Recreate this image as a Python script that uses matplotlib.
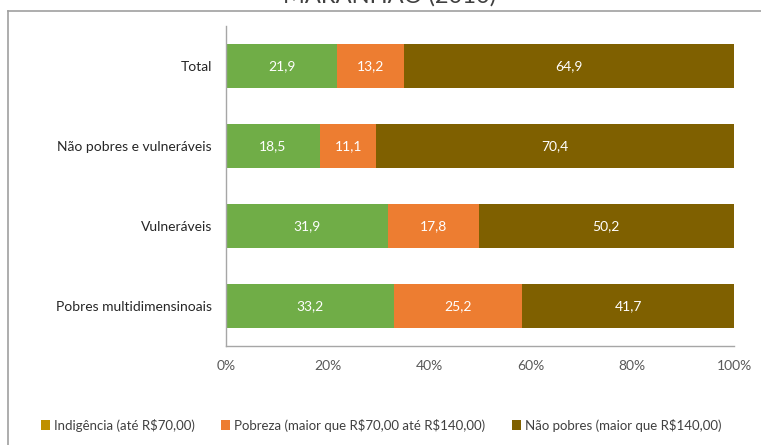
import numpy as np
import matplotlib
matplotlib.use("Agg")
import matplotlib.pyplot as plt
from matplotlib.patches import Patch
from matplotlib.lines import Line2D

plt.rcParams["font.family"] = ["Lato", "DejaVu Sans"]
plt.rcParams["text.parse_math"] = False

title = "MARANHÃO (2010)"
categories = ["Total", "Não pobres e vulneráveis", "Vulneráveis", "Pobres multidimensinoais"]
indigencia = [21.9, 18.5, 31.9, 33.2]
pobreza = [13.2, 11.1, 17.8, 25.2]
nao_pobres = [64.9, 70.4, 50.2, 41.7]
legend_labels = ["Indigência (até R$70,00)",
                 "Pobreza (maior que R$70,00 até R$140,00)",
                 "Não pobres (maior que R$140,00)"]
xticks = [0, 20, 40, 60, 80, 100]

bar_colors = ["#70AD47", "#ED7D31", "#7F6000"]
legend_colors = ["#BF9000", "#ED7D31", "#7F6000"]

fig = plt.figure(figsize=(7.61, 4.45), dpi=100)
ax = fig.add_axes([226 / 761, 1 - 346 / 445, (734 - 226) / 761, 320 / 445])

series = np.array([indigencia, pobreza, nao_pobres])
totals = series.sum(axis=0)
shares = series / totals * 100
y = np.arange(len(categories))
left = np.zeros(len(categories))
for vals, share, col in zip(series, shares, bar_colors):
    ax.barh(y, share, left=left, height=0.55, color=col, edgecolor="none")
    for yi, l, s, v in zip(y, left, share, vals):
        ax.text(l + s / 2, yi, f"{v:.1f}".replace(".", ","), ha="center", va="center",
                color="white", fontsize=10)
    left += share

ax.set_ylim(len(categories) - 0.5, -0.5)
ax.set_xlim(0, 100)
ax.set_yticks(y)
ax.set_yticklabels(categories, fontsize=10, color="#262626")
ax.set_xticks(xticks)
ax.set_xticklabels([f"{t}%" for t in xticks], fontsize=10, color="#595959")
ax.tick_params(length=0, pad=10)
ax.tick_params(axis="y", pad=10)
for s in ["top", "right"]:
    ax.spines[s].set_visible(False)
for s in ["left", "bottom"]:
    ax.spines[s].set_color("#A6A6A6")
    ax.spines[s].set_linewidth(1)

handles = [Patch(facecolor=c, edgecolor="none") for c in legend_colors]
fig.legend(handles, legend_labels, loc="center", bbox_to_anchor=(381 / 761, 1 - 425 / 445),
           ncol=3, frameon=False, fontsize=9.5, handlelength=0.7, handleheight=0.7,
           handletextpad=0.3, columnspacing=2.0, labelcolor="#404040")

# chart frame (cropped screenshot)
fig.add_artist(Line2D([8 / 761, 1], [1 - 11 / 445, 1 - 11 / 445], color="#A0A0A0", lw=1.2))
fig.add_artist(Line2D([8 / 761, 8 / 761], [0, 1 - 11 / 445], color="#A0A0A0", lw=1.2))

fig.text(390 / 761, 1 + 4 / 445, title, ha="center", va="center", fontsize=17, color="#404040")

fig.savefig("out.png", dpi=100)
